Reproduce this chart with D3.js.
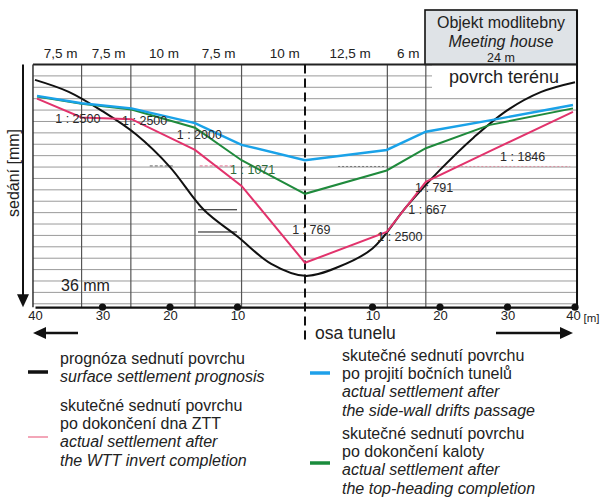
<!DOCTYPE html>
<html><head><meta charset="utf-8">
<script src="https://cdn.jsdelivr.net/npm/d3@7"></script>
<style>
body{margin:0;background:#fff;}
svg{display:block;font-family:"Liberation Sans",Arial,sans-serif;}
</style></head>
<body>
<svg id="c" width="600" height="497"></svg>
<script>
// ---- data ----
const progX = [-40,-35,-30,-25,-20,-15,-10,-5,0,5,10,15,20,25,30,35,40];
const progY = [2.7,4.8,8.2,12.3,18.0,25.5,30.2,35.0,37.1,35.5,32.3,25.0,18.5,12.8,8.0,4.8,3.1];
const measX = [-39.7,-33.1,-25.7,-16.3,-9.4,0,12.1,17.9,27.4,39.7];
const blueY  = [5.5,6.8,7.7,10.3,14.1,16.8,15.0,11.8,9.8,7.1];
const greenY = [5.6,6.9,7.9,11.1,16.8,22.7,18.6,14.7,10.6,7.7];
const pinkY  = [6.0,9.3,9.6,15.0,21.3,34.8,29.4,20.6,15.2,8.3];
const vLines = [-33.1,-25.8,-16.3,-9.4,12.2,17.9];
const spacingLabels = ["7,5 m","7,5 m","10 m","7,5 m","10 m","12,5 m","6 m"];
const spacingPos = [-36.2,-29.1,-20.9,-12.8,-3.0,6.7,15.3];
const xTicks = [-40,-30,-20,-10,10,20,30,40];
const ratioLabels = [
  {t:"1 : 2500", x:-37.0, y:10.35, c:"#2a2a2a"},
  {t:"1 : 2500", x:-27.1, y:10.6, c:"#2a2a2a"},
  {t:"1 : 2000", x:-19.0, y:13.1, c:"#2a2a2a"},
  {t:"1 : 1071", x:-11.1, y:19.2, c:"#2f6b3a"},
  {t:"1 : 769",  x:-1.9,  y:29.7, c:"#2a2a2a"},
  {t:"1 : 2500", x:10.7,  y:31.0, c:"#2a2a2a"},
  {t:"1 : 667",  x:15.3,  y:26.2, c:"#2a2a2a"},
  {t:"1 : 791",  x:16.3,  y:22.4, c:"#2a2a2a"},
  {t:"1 : 1846", x:28.9,  y:16.9, c:"#2a2a2a"}
];
const guides = [
  {x1:-15.85,x2:-10.07,y:25.5,c:"#111",d:null},
  {x1:-15.85,x2:-10.07,y:29.4,c:"#111",d:null},
  {x1:-23,x2:-19.3,y:17.8,c:"#666",d:"3,2"},
  {x1:-15.6,x2:-10.7,y:17.8,c:"#e07090",d:"3,2"},
  {x1:4.9,x2:12.1,y:17.9,c:"#777",d:"2,2"},
  {x1:19.6,x2:39.3,y:17.9,c:"#d890a0",d:"2,2"}
];
const legend = [
  {color:"#111", w:3.5, col:0, lines:[["prognóza sednutí povrchu",0],["surface settlement prognosis",1]]},
  {color:"#f3a6b8", w:2, col:0, lines:[["skutečné sednutí povrchu",0],["po dokončení dna ZTT",0],["actual settlement after",1],["the WTT invert completion",1]]},
  {color:"#1ea0ea", w:3.5, col:1, lines:[["skutečné sednutí povrchu",0],["po projití bočních tunelů",0],["actual settlement after",1],["the side-wall drifts passage",1]]},
  {color:"#1a8c3c", w:3.5, col:1, lines:[["skutečné sednutí povrchu",0],["po dokončení kaloty",0],["actual settlement after",1],["the top-heading completion",1]]}
];

// ---- layout ----
const svg = d3.select("#c");
const x = d3.scaleLinear().domain([-40,40]).range([35,575]);
const y = d3.scaleLinear().domain([0,42.6]).range([64.5,307.2]);
const L = x(-40.3), R = x(40.3), T = y(0), B = y(42.6);

// building box
svg.append("rect").attr("x",425).attr("y",10).attr("width",R-425).attr("height",T-10)
  .attr("fill","#dfe3e7").attr("stroke","#111").attr("stroke-width",1.6);
svg.append("text").attr("x",501).attr("y",28).attr("text-anchor","middle").attr("font-size",16).attr("fill","#222").text("Objekt modlitebny");
svg.append("text").attr("x",501).attr("y",47).attr("text-anchor","middle").attr("font-size",16).attr("font-style","italic").attr("fill","#222").text("Meeting house");
svg.append("text").attr("x",501).attr("y",62).attr("text-anchor","middle").attr("font-size",12.5).attr("fill","#222").text("24 m");

// horizontal grid
svg.selectAll("line.h").data(d3.range(2,43,2)).join("line")
  .attr("x1",L).attr("x2",R).attr("y1",d=>y(d)).attr("y2",d=>y(d))
  .attr("stroke","#9a9a9a").attr("stroke-width",1);
// white area for ground surface label
svg.append("rect").attr("x",432).attr("y",T+1).attr("width",R-433).attr("height",25).attr("fill","#fff");
svg.append("text").attr("x",504).attr("y",83).attr("text-anchor","middle").attr("font-size",18).attr("fill","#222").text("povrch terénu");

// vertical grid
svg.selectAll("line.v").data(vLines).join("line")
  .attr("x1",d=>x(d)).attr("x2",d=>x(d)).attr("y1",T).attr("y2",B)
  .attr("stroke","#555").attr("stroke-width",1.2);

// guides
svg.selectAll("line.gd").data(guides).join("line")
  .attr("x1",d=>x(d.x1)).attr("x2",d=>x(d.x2)).attr("y1",d=>y(d.y)).attr("y2",d=>y(d.y))
  .attr("stroke",d=>d.c).attr("stroke-width",1).attr("stroke-dasharray",d=>d.d);

// frame
svg.append("line").attr("x1",L).attr("x2",R).attr("y1",T).attr("y2",T).attr("stroke","#222").attr("stroke-width",1.8);
svg.append("line").attr("x1",L).attr("x2",L).attr("y1",T).attr("y2",B).attr("stroke","#333").attr("stroke-width",1.5);
svg.append("line").attr("x1",R).attr("x2",R).attr("y1",10).attr("y2",B).attr("stroke","#111").attr("stroke-width",2);

// tunnel axis
svg.append("line").attr("x1",x(0)).attr("x2",x(0)).attr("y1",T).attr("y2",342)
  .attr("stroke","#111").attr("stroke-width",2).attr("stroke-dasharray","9,5");

// spacing labels
svg.selectAll("text.sp").data(spacingLabels).join("text")
  .attr("x",(d,i)=>x(spacingPos[i])).attr("y",58).attr("text-anchor","middle")
  .attr("font-size",13.5).attr("fill","#222").text(d=>d);

// curves
const line = d3.line().x(d=>x(d[0])).y(d=>y(d[1]));
const smooth = d3.line().x(d=>x(d[0])).y(d=>y(d[1])).curve(d3.curveCatmullRom);
svg.append("path").attr("d",smooth(progX.map((v,i)=>[v,progY[i]]))).attr("fill","none").attr("stroke","#111").attr("stroke-width",2);
svg.append("path").attr("d",line(measX.map((v,i)=>[v,pinkY[i]]))).attr("fill","none").attr("stroke","#e2336c").attr("stroke-width",2);
svg.append("path").attr("d",line(measX.map((v,i)=>[v,greenY[i]]))).attr("fill","none").attr("stroke","#1f8a3c").attr("stroke-width",2);
svg.append("path").attr("d",line(measX.map((v,i)=>[v,blueY[i]]))).attr("fill","none").attr("stroke","#1aa2e8").attr("stroke-width",2.4);

// ratio labels
svg.selectAll("text.r").data(ratioLabels).join("text")
  .attr("x",d=>x(d.x)).attr("y",d=>y(d.y)).attr("font-size",12.5).attr("fill",d=>d.c).text(d=>d.t);

svg.append("text").attr("x",61).attr("y",291).attr("font-size",16).attr("fill","#222").text("36 mm");

// x axis
const ax = svg.append("g").attr("transform",`translate(0,${B})`)
  .call(d3.axisBottom(x).tickValues(xTicks).tickFormat(d=>Math.abs(d)).tickSize(0).tickPadding(4));
ax.select(".domain").attr("stroke","#111").attr("stroke-width",2.2);
ax.selectAll("text").attr("font-size",13).attr("fill","#222").attr("font-family","Liberation Sans, Arial, sans-serif");
ax.selectAll(".tick").filter(d=>d===40).select("text").attr("dx",-2);
svg.selectAll("circle.t").data(xTicks.filter(d=>d>-40)).join("circle")
  .attr("cx",d=>x(d)).attr("cy",B).attr("r",3.6).attr("fill","#111");
svg.append("text").attr("x",599.5).attr("y",322).attr("text-anchor","end").attr("font-size",11.5).attr("fill","#222").text("[m]");

// y axis arrow
svg.append("line").attr("x1",23).attr("x2",23).attr("y1",T).attr("y2",B-8).attr("stroke","#111").attr("stroke-width",2);
svg.append("path").attr("d",`M17,${B-13}L29,${B-13}L23,${B}Z`).attr("fill","#111");
svg.append("text").attr("transform",`translate(19,173) rotate(-90)`).attr("text-anchor","middle")
  .attr("font-size",16).attr("fill","#222").text("sedání [mm]");

// direction arrows
svg.append("line").attr("x1",78).attr("x2",42).attr("y1",333).attr("y2",333).attr("stroke","#111").attr("stroke-width",2.4);
svg.append("path").attr("d","M33,333L46,327L46,339Z").attr("fill","#111");
svg.append("line").attr("x1",496).attr("x2",562).attr("y1",333).attr("y2",333).attr("stroke","#111").attr("stroke-width",2.4);
svg.append("path").attr("d","M573,333L560,327L560,339Z").attr("fill","#111");
svg.append("text").attr("x",315).attr("y",339).attr("font-size",17.5).attr("fill","#222").text("osa tunelu");

// legend
const colX = [60,342], swX = [[28,48],[310,330]];
const firstBase = [364,411,361,439];
const swY = [372,437,373,463];
const lineStep = 18.2;
legend.forEach((it,i)=>{
  svg.append("line").attr("x1",swX[it.col][0]).attr("x2",swX[it.col][1]).attr("y1",swY[i]).attr("y2",swY[i])
    .attr("stroke",it.color).attr("stroke-width",it.w);
  it.lines.forEach((ln,j)=>{
    svg.append("text").attr("x",colX[it.col]).attr("y",firstBase[i]+j*lineStep)
      .attr("font-size",16).attr("font-style",ln[1]?"italic":"normal").attr("fill","#222").text(ln[0]);
  });
});
</script>
</body></html>
